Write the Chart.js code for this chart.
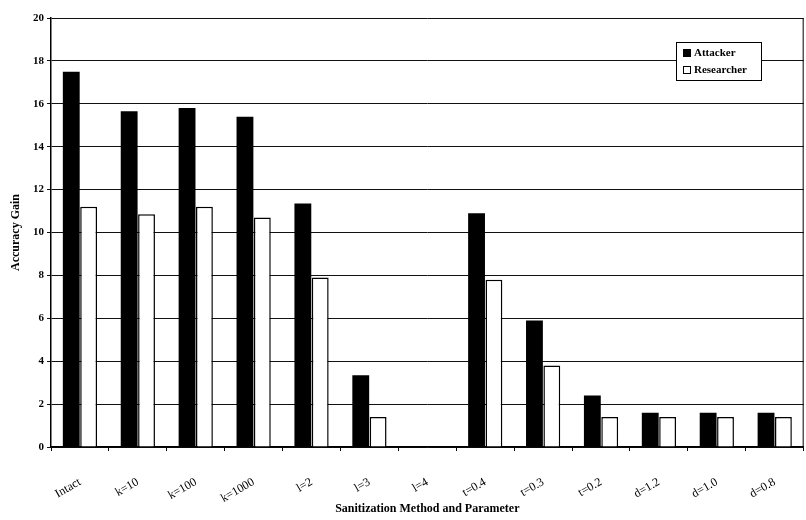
<!DOCTYPE html>
<html>
<head>
<meta charset="utf-8">
<script src="https://cdn.jsdelivr.net/npm/chart.js@4.4.1/dist/chart.umd.min.js"></script>
<style>
  html, body { margin: 0; padding: 0; background: #fff; }
  #wrap { width: 806px; height: 520px; }
</style>
</head>
<body>
<div id="wrap"><canvas id="chart" width="806" height="520"></canvas></div>
<script>
// data
const categories = ["Intact", "k=10", "k=100", "k=1000", "l=2", "l=3", "l=4", "t=0.4", "t=0.3", "t=0.2", "d=1.2", "d=1.0", "d=0.8"];
const attacker = [17.5, 15.65, 15.8, 15.4, 11.35, 3.35, 0, 10.9, 5.9, 2.4, 1.6, 1.6, 1.6];
const researcher = [11.2, 10.85, 11.2, 10.7, 7.9, 1.4, 0, 7.8, 3.8, 1.4, 1.4, 1.4, 1.4];
const yTicks = [0, 2, 4, 6, 8, 10, 12, 14, 16, 18, 20];

const serif = "'Liberation Serif', 'DejaVu Serif', serif";

// legend box drawn inside the plot, top right
const boxLegend = {
  id: 'boxLegend',
  afterDraw(chart) {
    const ctx = chart.ctx;
    const x = 676, y = 42, w = 85, h = 38;
    ctx.save();
    ctx.fillStyle = '#fff';
    ctx.fillRect(x, y, w, h);
    ctx.strokeStyle = '#000';
    ctx.lineWidth = 1;
    ctx.strokeRect(x + 0.5, y + 0.5, w, h);
    ctx.font = "bold 11px " + serif;
    ctx.textBaseline = 'middle';
    chart.data.datasets.forEach((ds, i) => {
      const ry = y + 11 + i * 17;
      ctx.fillStyle = ds.backgroundColor;
      ctx.fillRect(x + 7, ry - 4, 8, 8);
      ctx.strokeStyle = '#000';
      ctx.lineWidth = 1;
      ctx.strokeRect(x + 7.5, ry - 3.5, 7, 7);
      ctx.fillStyle = '#000';
      ctx.fillText(ds.label, x + 18, ry);
    });
    // right border of the plot area
    const a = chart.chartArea;
    ctx.beginPath();
    ctx.moveTo(a.right - 0.5, a.top);
    ctx.lineTo(a.right - 0.5, a.bottom);
    ctx.stroke();
    ctx.restore();
  }
};

new Chart(document.getElementById('chart'), {
  type: 'bar',
  data: {
    labels: categories,
    datasets: [
      { label: 'Attacker', data: attacker, backgroundColor: '#000', borderColor: '#000', borderWidth: 0 },
      { label: 'Researcher', data: researcher, backgroundColor: '#fff', borderColor: '#000', borderWidth: 1.5 }
    ]
  },
  options: {
    responsive: false,
    animation: false,
    layout: { padding: { top: 18, right: 2, left: 9, bottom: 4 } },
    datasets: { bar: { categoryPercentage: 0.6, barPercentage: 0.97 } },
    plugins: { legend: { display: false }, tooltip: { enabled: false } },
    scales: {
      x: {
        offset: true,
        grid: { display: true, drawOnChartArea: false, drawTicks: true, tickLength: 4, color: '#000', offset: true },
        border: { color: '#000', width: 1.5 },
        ticks: {
          color: '#000',
          font: { family: serif, size: 12 },
          minRotation: 30, maxRotation: 30,
          padding: 24
        },
        title: {
          display: true,
          text: 'Sanitization Method and Parameter',
          color: '#000',
          font: { family: serif, size: 12, weight: 'bold' },
          padding: { top: 6, bottom: 0 }
        },
        afterFit(s) { s.height = 69; }
      },
      y: {
        min: 0, max: 20,
        afterBuildTicks(s) { s.ticks = yTicks.map(v => ({ value: v })); },
        grid: { color: '#111', lineWidth: 1, tickLength: 4 },
        border: { color: '#000', width: 1.5 },
        ticks: {
          color: '#000',
          font: { family: serif, size: 11, weight: 'bold' },
          padding: 3
        },
        title: {
          display: true,
          text: 'Accuracy Gain',
          color: '#000',
          font: { family: serif, size: 12, weight: 'bold' },
          padding: { top: 0, bottom: 4 }
        },
        afterFit(s) { s.width = 42; }
      }
    }
  },
  plugins: [boxLegend]
});
</script>
</body>
</html>
